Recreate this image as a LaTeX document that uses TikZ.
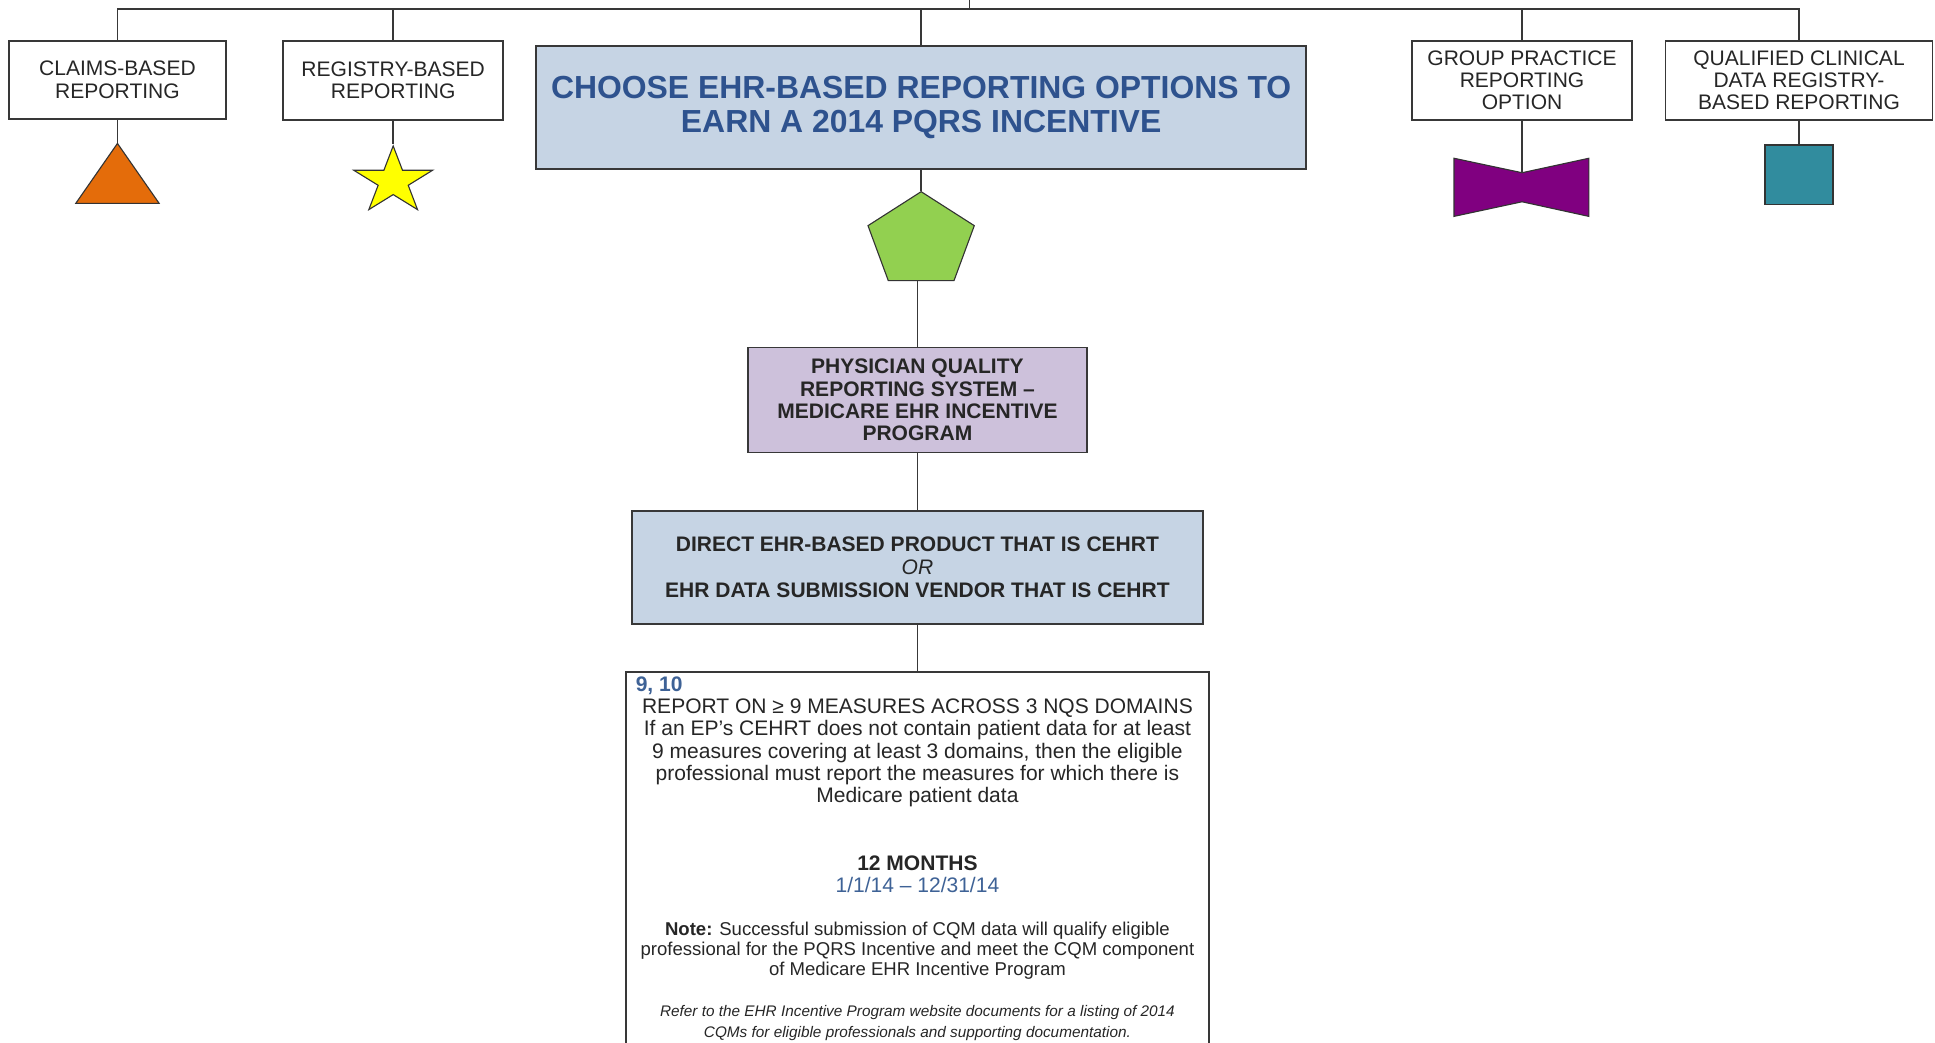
\documentclass[tikz,border=0pt]{standalone}
\usepackage{fontspec}
\setmainfont{Liberation Sans}
\usetikzlibrary{positioning,shapes.geometric}

\definecolor{linegray}{RGB}{56,56,56}
\definecolor{titlefill}{RGB}{198,212,228}
\definecolor{titletext}{RGB}{46,82,142}
\definecolor{programfill}{RGB}{205,193,219}
\definecolor{infoblue}{RGB}{62,98,150}
\definecolor{claimsorange}{RGB}{228,108,10}
\definecolor{registryyellow}{RGB}{255,255,0}
\definecolor{ehrgreen}{RGB}{146,208,80}
\definecolor{grouppurple}{RGB}{128,0,128}
\definecolor{qcdrteal}{RGB}{49,140,158}

\newcommand{\boxfont}{\fontsize{17}{18}\selectfont}
\newcommand{\titlefont}{\fontsize{25.8}{27}\selectfont\bfseries}
\newcommand{\notefont}{\fontsize{15}{16}\selectfont}
\newcommand{\referfont}{\fontsize{12.4}{17}\selectfont\itshape}

\begin{document}
\begin{tikzpicture}[
  x=1pt, y=-1pt,
  link/.style={draw=linegray, line width=1.3pt},
  optionbox/.style={draw=linegray, line width=1.5pt, fill=white, text=black!85, align=center, inner sep=0pt, font=\boxfont},
  titlebox/.style={optionbox, fill=titlefill},
  programbox/.style={optionbox, fill=programfill, font=\boxfont\bfseries},
  textblock/.style={align=center, inner sep=0pt, anchor=north, text=black!85},
  marker/.style={draw=black!80, line width=0.9pt, inner sep=0pt, transform shape}
  ]
  \useasboundingbox (0,0) rectangle (1565,843);

  % Nodes
  \node (claims) [optionbox, minimum width=176, minimum height=63] at (95,64.5) {CLAIMS-BASED\\REPORTING};
  \node (registry) [optionbox, minimum width=178, minimum height=64] at (318,65) {REGISTRY-BASED\\REPORTING};
  \node (choose) [titlebox, minimum width=623, minimum height=100, font=\titlefont, text=titletext] at (745,87) {CHOOSE EHR-BASED REPORTING OPTIONS TO\\EARN A 2014 PQRS INCENTIVE};
  \node (group) [optionbox, minimum width=178, minimum height=64] at (1231,65) {GROUP PRACTICE\\REPORTING\\OPTION};
  \node (qcdr) [optionbox, minimum width=216, minimum height=64] at (1455,65) {QUALIFIED CLINICAL\\DATA REGISTRY-\\BASED REPORTING};

  \node (triangle) [marker, regular polygon, regular polygon sides=3, minimum size=77.8, yscale=0.83, fill=claimsorange] at (95,148.3) {};
  \node (star) [marker, star, star points=5, star point ratio=2.618, minimum size=67, yscale=0.85, fill=registryyellow] at (318,146.5) {};
  \node (pentagon) [marker, regular polygon, regular polygon sides=5, minimum size=90.4, yscale=0.88, fill=ehrgreen] at (745,194.8) {};
  \node (square) [marker, rectangle, minimum width=55, minimum height=48.5, fill=qcdrteal] at (1455,141.5) {};
  \filldraw[draw=black!80, line width=0.9pt, fill=grouppurple] (1176,128) -- (1231,139.7) -- (1285,128) -- (1285,175) -- (1231,163.2) -- (1176,175) -- cycle;
  \coordinate (bowtie) at (1231,139.7);

  \node (pqrs) [programbox, minimum width=274, minimum height=85] at (742,323.5) {PHYSICIAN QUALITY\\REPORTING SYSTEM --\\MEDICARE EHR INCENTIVE\\PROGRAM};
  \node (direct) [titlebox, minimum width=462, minimum height=92, font=\fontsize{17}{18.5}\selectfont\bfseries] at (742,459) {DIRECT EHR-BASED PRODUCT THAT IS CEHRT\\{\mdseries\itshape OR}\\EHR DATA SUBMISSION VENDOR THAT IS CEHRT};

  \node (report) [optionbox, minimum width=472, minimum height=330, anchor=north] at (742,543) {};
  \node (steps) [inner sep=0pt, anchor=north west, font=\boxfont\bfseries, text=infoblue] at (514,547) {9, 10};
  \node (measures) [textblock, font=\boxfont] at (742,565) {REPORT ON ≥ 9 MEASURES ACROSS 3 NQS DOMAINS\\If an EP’s CEHRT does not contain patient data for at least\\9 measures covering at least 3 domains, then the eligible\\professional must report the measures for which there is\\Medicare patient data};
  \node (months) [textblock, font=\boxfont, below=39pt of measures] {\textbf{12 MONTHS}\\{\color{infoblue}1/1/14 -- 12/31/14}};
  \node (note) [textblock, font=\notefont, below=23.5pt of months] {\textbf{Note:} Successful submission of CQM data will qualify eligible\\professional for the PQRS Incentive and meet the CQM component\\of Medicare EHR Incentive Program};
  \node (refer) [textblock, font=\referfont, below=21pt of note] {Refer to the EHR Incentive Program website documents for a listing of 2014\\CQMs for eligible professionals and supporting documentation.};

  \coordinate (bus) at (745,7.5);
  \coordinate (parent) at (784,0);

  % Connections
  \draw[link] (claims) |- (bus) -| (qcdr);
  \draw[link] (registry) |- (bus);
  \draw[link] (group) |- (bus);
  \draw[link] (choose) -- (choose |- bus);
  \draw[link] (parent) -- (parent |- bus);
  \draw[link] (claims) -- (triangle);
  \draw[link] (registry) -- (star);
  \draw[link] (choose) -- (pentagon);
  \draw[link] (group) -- (bowtie);
  \draw[link] (qcdr) -- (square);
  \draw[link] (pqrs.north) -- (pqrs.north |- pentagon.south);
  \draw[link] (pqrs) -- (direct);
  \draw[link] (direct) -- (report);

\end{tikzpicture}
\end{document}
